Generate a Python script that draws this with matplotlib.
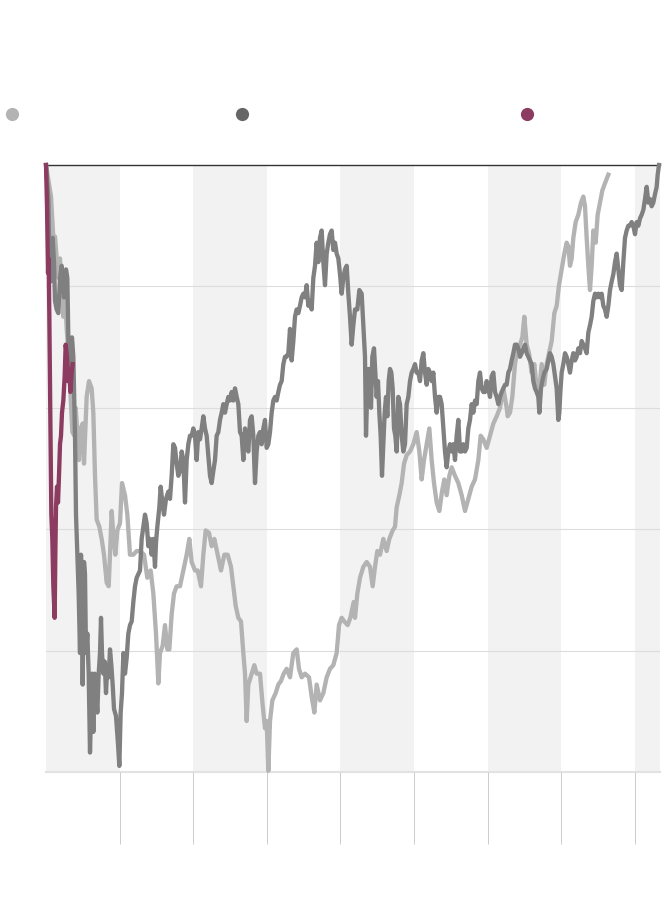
import matplotlib
matplotlib.use("Agg")
import matplotlib.pyplot as plt
from matplotlib.lines import Line2D

# x: trading days since peak, y: % below peak
light_x = [0, 15, 22, 27, 32, 37, 42, 47, 52, 57, 62, 70, 74, 79, 85, 89, 94, 99, 104, 110, 114, 122, 129, 137, 142, 147, 152, 160, 167, 174, 182, 188, 192, 197, 202, 208, 214, 222, 228, 237, 244, 252, 262, 272, 282, 294, 304, 314, 322, 330, 337, 342, 350, 357, 364, 370, 377, 384, 392, 402, 412, 422, 430, 437, 447,
           455, 465, 472, 479, 489, 497, 505, 515, 525, 535, 545, 555, 562, 569, 577, 585, 592, 597, 602, 607, 617, 625, 632, 642, 650, 657, 662, 667, 672, 679, 689, 697, 705, 713, 722, 732, 742, 752, 759, 767, 777, 789, 797, 805, 812, 822, 832, 842, 852, 862, 872, 879, 887, 895, 905, 913, 923,
           927, 934, 942, 952, 962, 972, 980, 987, 994, 1002, 1012, 1022, 1030, 1040, 1047, 1052, 1060, 1067, 1074, 1082, 1092, 1102, 1112, 1120, 1127, 1134, 1142, 1150, 1157, 1164, 1172, 1180, 1188, 1195, 1202, 1210, 1217, 1227, 1237, 1247, 1257, 1267, 1277, 1287, 1297, 1304, 1312, 1322, 1332, 1342, 1352, 1362, 1372, 1382,
           1385, 1392, 1399, 1407, 1415, 1422, 1429, 1435, 1442, 1449, 1457, 1465, 1472, 1479, 1487, 1495, 1502, 1509, 1517, 1525, 1532, 1539, 1547, 1555, 1562, 1567, 1572, 1577, 1582, 1589, 1597, 1605, 1612, 1617, 1622, 1627, 1632, 1637, 1642, 1649, 1655, 1662, 1669, 1677, 1687]
light_y = [0, -2.6, -6.0, -5.9, -7.7, -9.3, -7.7, -10.3, -12.5, -10.3, -13.5, -16.4, -19.1, -22.0, -22.3, -20.0, -22.0, -24.3, -21.7, -21.3, -24.6, -19.1, -17.8, -18.4, -20.4, -25.6, -29.2, -29.8, -30.8, -32.1, -34.4, -34.7, -32.1, -28.5, -30.5, -32.1, -30.1, -29.5, -26.2, -27.2, -28.8, -32.1, -32.1, -31.8, -31.8, -32.1, -34.0, -33.4, -35.3, -38.6, -42.7, -40.2, -39.6, -37.9, -39.9, -39.9, -37.0, -35.3, -34.7, -34.7, -33.4, -32.1, -30.8, -32.7, -33.4,
           -33.4, -34.7, -32.1, -30.1, -30.3, -31.4, -30.8, -32.1, -33.4, -32.1, -32.1, -33.1, -34.7, -36.3, -37.3, -37.6, -40.2, -41.9, -45.8, -42.8, -41.9, -41.2, -41.9, -41.9, -44.5, -46.4, -45.8, -49.9, -45.8, -44.1, -43.5, -42.8, -42.5, -41.9, -41.5, -42.2, -40.2, -39.9, -41.5, -42.2, -41.9, -42.2, -43.8, -45.1, -42.8, -44.1, -43.5, -42.2, -41.5, -41.2, -40.2, -37.9, -37.3, -37.6, -37.9, -37.3, -36.0,
           -37.3, -35.3, -34.0, -33.1, -32.7, -33.1, -34.7, -33.1, -31.8, -32.1, -30.8, -31.8, -30.8, -30.1, -29.8, -28.2, -27.2, -26.2, -24.6, -23.9, -23.6, -23.0, -22.0, -23.6, -25.9, -24.3, -23.0, -21.7, -24.3, -26.2, -27.8, -28.5, -26.9, -25.9, -27.2, -25.6, -24.9, -25.6, -26.2, -27.2, -28.5, -27.5, -26.5, -25.9, -24.3, -22.3, -22.6, -23.3, -22.3, -21.3, -20.7, -20.0, -18.4, -20.0,
           -20.7, -20.4, -19.1, -16.4, -15.1, -14.8, -14.2, -12.5, -14.8, -15.5, -17.1, -16.4, -18.4, -18.7, -16.4, -18.1, -16.4, -15.5, -14.5, -12.2, -11.6, -9.9, -8.6, -7.3, -6.4, -6.7, -8.3, -7.7, -6.0, -4.7, -4.1, -3.1, -2.6, -3.4, -6.0, -8.3, -10.3, -8.3, -5.4, -6.4, -4.1, -3.1, -2.1, -1.5, -0.8]

dark_x = [0, 7, 10, 14, 20, 24, 27, 32, 37, 42, 47, 54, 60, 64, 67, 70, 74, 78, 82, 85, 87, 90, 94, 98, 102, 105, 108, 110, 114, 117, 120, 124, 128, 132, 135, 138, 142, 146, 150, 154, 158, 162, 165, 168, 172, 176, 180, 184, 188, 192, 196, 200, 204, 210, 216, 220, 224, 228, 232, 237, 242, 247, 252, 257, 262, 267, 272, 277, 282, 287, 292, 297, 302, 307, 312, 317, 322, 327, 330, 334, 340, 344, 348, 354, 360, 367, 372, 377, 382, 387, 392, 397, 402, 407, 412, 417, 422, 427, 432, 437, 442, 447,
          452, 457, 462, 467, 472, 477, 482, 487, 492, 497, 502, 507, 512, 517, 522, 527, 532, 537, 542, 547, 552, 557, 562, 567, 572, 577, 582, 587, 592, 597, 602, 607, 612, 617, 622, 627, 632, 637, 642, 647, 652, 657, 662, 667, 672, 677, 682, 687, 692, 697, 702, 707, 712, 717, 722, 727, 732, 737, 742, 747, 752, 757, 762, 767, 772, 777, 782, 787, 792, 797, 802, 807, 812, 817, 822, 827, 832, 837, 842, 847, 852, 857, 862, 867, 872, 877, 882, 887, 892, 897, 902, 907, 912, 917, 922, 927,
          934, 940, 947, 952, 957, 960, 964, 968, 972, 975, 979, 984, 988, 992, 996, 1000, 1004, 1008, 1012, 1016, 1020, 1024, 1028, 1032, 1036, 1040, 1044, 1048, 1052, 1057, 1062, 1067, 1072, 1077, 1082, 1087, 1092, 1097, 1102, 1107, 1112, 1117, 1122, 1127, 1132, 1137, 1142, 1147, 1152, 1157, 1162, 1167, 1172, 1177, 1182, 1187, 1192, 1197, 1202, 1207, 1212, 1217, 1222, 1227, 1232, 1237, 1242, 1247, 1252, 1257, 1262, 1267, 1272, 1277, 1282, 1287, 1292, 1297, 1302, 1307, 1312, 1317, 1322, 1327, 1332, 1337, 1342, 1347, 1352, 1357, 1362, 1367, 1372, 1377,
          1382, 1387, 1392, 1397, 1402, 1407, 1412, 1417, 1422, 1427, 1432, 1437, 1442, 1447, 1452, 1457, 1462, 1467, 1472, 1477, 1480, 1485, 1489, 1495, 1502, 1507, 1512, 1517, 1522, 1527, 1532, 1537, 1540, 1543, 1547, 1552, 1557, 1562, 1567, 1572, 1577, 1582, 1587, 1592, 1597, 1602, 1607, 1612, 1617, 1622, 1627, 1632, 1637, 1642, 1647, 1652, 1657, 1662, 1667, 1672, 1677, 1682, 1687, 1692, 1697, 1702, 1707, 1712, 1717, 1722, 1727, 1732, 1737, 1742, 1747, 1752, 1757, 1762, 1767, 1772, 1777, 1782, 1787, 1792, 1797, 1802, 1807, 1812, 1817, 1822, 1827, 1832, 1835, 1839]
dark_y = [0, -2.8, -7.7, -9.6, -6.0, -8.0, -11.2, -11.9, -12.2, -9.3, -8.3, -10.9, -8.6, -9.3, -14.2, -17.4, -14.8, -14.2, -15.8, -19.7, -22.3, -28.8, -32.1, -35.3, -40.2, -32.1, -35.3, -42.8, -32.7, -33.7, -40.2, -38.6, -41.9, -48.4, -45.1, -41.9, -46.7, -41.9, -43.5, -45.1, -41.9, -40.2, -37.3, -40.2, -41.9, -40.9, -43.5, -41.2, -42.2, -39.9, -41.2, -42.8, -44.8, -45.4, -47.7, -49.5, -45.1, -43.5, -40.2, -41.9, -40.6, -38.6, -37.9, -37.6, -36.0, -34.7, -34.0, -33.7, -33.4, -30.8, -29.8, -28.8, -29.5, -31.4, -30.8, -32.1, -30.8, -33.1, -31.1, -29.8, -28.2, -26.5, -27.5, -28.8, -27.5, -26.9, -27.5, -25.6, -23.0, -23.3, -24.6, -25.6, -25.2, -23.6, -24.3, -27.8, -24.3, -23.0, -22.3, -22.3, -21.7, -22.3,
          -24.3, -22.0, -22.6, -21.7, -20.7, -21.7, -22.3, -23.9, -25.6, -26.2, -25.2, -24.3, -22.3, -22.0, -21.0, -20.4, -19.7, -20.4, -19.7, -19.1, -19.4, -18.7, -19.4, -18.4, -19.1, -19.7, -22.0, -22.3, -24.3, -21.7, -23.0, -23.6, -21.0, -20.7, -22.3, -26.2, -23.6, -22.3, -22.0, -23.0, -21.7, -21.0, -23.3, -23.0, -22.0, -20.4, -19.4, -19.1, -19.4, -18.7, -18.1, -17.8, -16.4, -15.8, -15.8, -15.5, -13.5, -16.1, -14.5, -12.5, -11.9, -12.2, -11.6, -10.9, -10.6, -10.9, -9.9, -11.6, -11.2, -11.9, -9.3, -8.3, -6.4, -8.0, -6.0, -5.4, -8.0, -9.9, -7.3, -6.4, -5.7, -5.4, -7.0, -6.4, -7.3, -7.7, -9.0, -10.6, -9.3, -8.6, -8.3, -10.6, -12.5, -14.8, -13.2, -11.9,
          -11.9, -10.3, -10.6, -13.2, -15.8, -22.3, -18.4, -16.8, -18.4, -20.0, -15.8, -15.1, -17.1, -19.1, -17.8, -20.4, -22.3, -25.6, -23.0, -20.4, -19.1, -20.7, -17.8, -16.8, -17.1, -18.4, -21.7, -22.3, -23.6, -19.1, -19.7, -22.3, -23.6, -23.0, -19.7, -19.1, -17.8, -17.1, -16.8, -16.4, -17.1, -17.1, -17.8, -16.1, -15.5, -17.1, -18.1, -16.8, -17.1, -17.8, -17.1, -19.1, -20.4, -19.1, -19.1, -19.7, -21.7, -23.6, -24.9, -23.6, -23.0, -23.6, -23.0, -24.3, -22.3, -21.0, -23.6, -23.6, -23.0, -23.6, -23.3, -21.7, -21.0, -19.7, -20.4, -19.4, -19.7, -17.8, -17.1, -18.4, -18.7, -18.7, -17.8, -18.4, -19.1, -17.4, -17.1, -18.7, -19.1, -19.7, -19.1, -18.7, -18.4, -18.1,
          -18.1, -17.1, -16.8, -16.1, -15.5, -14.8, -14.8, -15.1, -15.8, -15.5, -15.1, -14.8, -15.5, -15.8, -16.1, -16.4, -17.8, -18.4, -18.7, -19.1, -20.4, -18.4, -17.8, -17.1, -16.8, -16.1, -15.5, -15.8, -16.4, -17.4, -18.4, -21.0, -20.4, -18.7, -17.1, -16.4, -15.5, -15.8, -16.4, -17.1, -16.1, -15.5, -16.1, -15.8, -15.1, -15.5, -14.5, -14.8, -15.1, -15.5, -13.8, -13.2, -12.5, -11.2, -10.6, -10.9, -10.6, -10.9, -10.6, -11.6, -11.9, -12.5, -11.6, -10.3, -9.6, -9.0, -8.0, -7.3, -8.6, -9.9, -10.3, -8.0, -6.0, -5.4, -5.0, -5.0, -4.7, -5.0, -5.7, -4.7, -5.0, -4.4, -4.1, -3.7, -2.8, -1.8, -3.1, -2.8, -3.4, -3.1, -2.4, -1.8, -0.8, 0]

maroon_x = [0, 3, 6, 8, 10, 13, 16, 19, 22, 26, 28, 30, 33, 36, 39, 42, 45, 48, 52, 56, 59, 63, 66, 70, 73, 77, 80]
maroon_y = [0, -3.4, -8.9, -7.7, -12.5, -20.7, -28.8, -30.8, -34.7, -37.3, -32.1, -28.2, -26.5, -27.8, -25.6, -23.0, -22.3, -20.4, -19.4, -17.4, -14.8, -15.8, -17.8, -16.8, -18.7, -17.1, -16.4]

band_width = 220.8
x_max = 1842
y_grid = [-10, -20, -30, -40]

c_light, c_dark, c_dark_dot, c_maroon = "#b3b3b3", "#808080", "#666666", "#8b3c60"

fig = plt.figure(figsize=(6.7, 9.2), dpi=100)
ax = fig.add_axes([46/670, 147/920, 614/670, 607/920])
ax.set_xlim(0, x_max)
ax.set_ylim(-50, 0)

k = 0
while k * band_width < x_max:
    if k % 2 == 0:
        ax.axvspan(k * band_width, min((k + 1) * band_width, x_max), color="#f2f2f2", lw=0, zorder=0)
    k += 1
for g in y_grid:
    ax.axhline(g, color="#dddddd", lw=0.8, zorder=1)
ax.axhline(-50, color="#e2e2e2", lw=1.5, zorder=1, clip_on=False)
ax.axhline(0, color="#333333", lw=1.0, zorder=1, clip_on=False)

ax.plot(light_x, light_y, color=c_light, lw=3.1, zorder=3, clip_on=False, solid_joinstyle="round")
ax.plot(dark_x, dark_y, color=c_dark, lw=3.1, zorder=4, clip_on=False, solid_joinstyle="round")
ax.plot(maroon_x, maroon_y, color=c_maroon, lw=3.1, zorder=5, clip_on=False, solid_joinstyle="round")

for s in ax.spines.values():
    s.set_visible(False)
ticks = [band_width * i for i in range(1, 9)]
ax.set_xticks(ticks)
ax.set_xticklabels([])
ax.set_yticks([])
ax.tick_params(axis="x", length=52, width=0.7, color="#cccccc", direction="out")

for xp, col in [(12, c_light), (242, c_dark_dot), (527, c_maroon)]:
    fig.add_artist(Line2D([xp/670], [1 - 115/920], marker="o", markersize=9.5,
                          color=col, markeredgewidth=0, transform=fig.transFigure))

fig.savefig("out.png", dpi=100, facecolor="white")
